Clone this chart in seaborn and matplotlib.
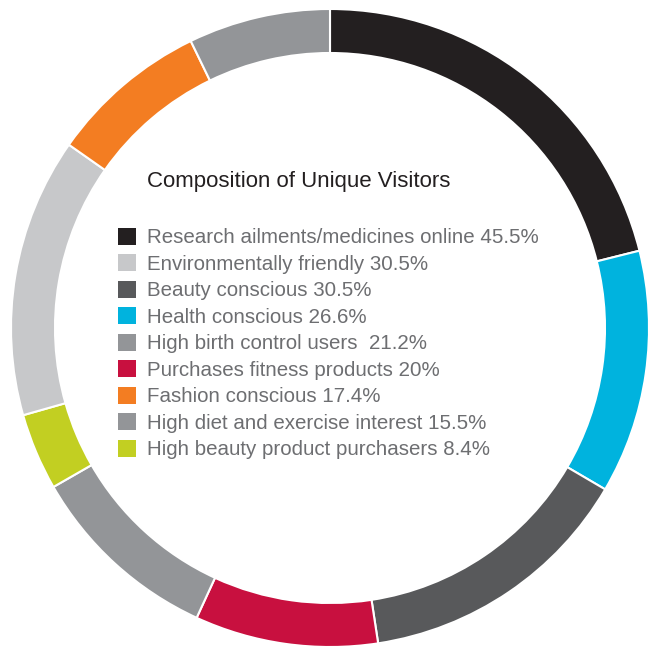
import matplotlib
matplotlib.use("Agg")
import matplotlib.pyplot as plt
import seaborn as sns
from matplotlib.patches import Patch

# Ring order (clockwise from top)
categories = [
    "Research ailments/medicines online",
    "Health conscious",
    "Beauty conscious",
    "Purchases fitness products",
    "High birth control users ",
    "High beauty product purchasers",
    "Environmentally friendly",
    "Fashion conscious",
    "High diet and exercise interest",
]
values = [45.5, 26.6, 30.5, 20, 21.2, 8.4, 30.5, 17.4, 15.5]
value_labels = ["45.5%", "26.6%", "30.5%", "20%", "21.2%", "8.4%", "30.5%", "17.4%", "15.5%"]
colors = ["#231f20", "#00b3de", "#58595b", "#c8103f", "#939598",
          "#c2cf22", "#c7c8ca", "#f37d22", "#939598"]

# Legend order
legend_order = [
    "Research ailments/medicines online",
    "Environmentally friendly",
    "Beauty conscious",
    "Health conscious",
    "High birth control users ",
    "Purchases fitness products",
    "Fashion conscious",
    "High diet and exercise interest",
    "High beauty product purchasers",
]
title = "Composition of Unique Visitors"

sns.set_theme(style="white")
plt.rcParams["font.family"] = ["Liberation Sans", "DejaVu Sans"]

W, H = 660, 647
fig = plt.figure(figsize=(W / 100, H / 100), dpi=100)
ax = fig.add_axes([0, 0, 1, 1])

cx, cy, R, ring = 330, H - 328, 319, 44
ax.pie(values, colors=colors, startangle=90, counterclock=False,
       radius=R, center=(cx, cy),
       wedgeprops=dict(width=ring, edgecolor="white", linewidth=1.5))
ax.set_xlim(0, W)
ax.set_ylim(0, H)
ax.set_aspect("equal")
ax.axis("off")

color_map = dict(zip(categories, colors))
val_map = dict(zip(categories, value_labels))
handles = [Patch(facecolor=color_map[c], edgecolor="none") for c in legend_order]
labels = [f"{c} {val_map[c]}" for c in legend_order]

fs = 14.8
leg = fig.legend(handles, labels, loc="upper left",
                 bbox_to_anchor=(118 / W, 1 - 228 / H),
                 frameon=False, fontsize=fs,
                 handlelength=0.88, handleheight=0.88,
                 handletextpad=0.54, labelspacing=0.34,
                 borderpad=0, borderaxespad=0)
for t in leg.get_texts():
    t.set_color("#6d6e71")

fig.text(147 / W, 1 - 182 / H, title, fontsize=16, color="#231f20",
         ha="left", va="center")

fig.savefig("out.png", dpi=100, facecolor="white")
